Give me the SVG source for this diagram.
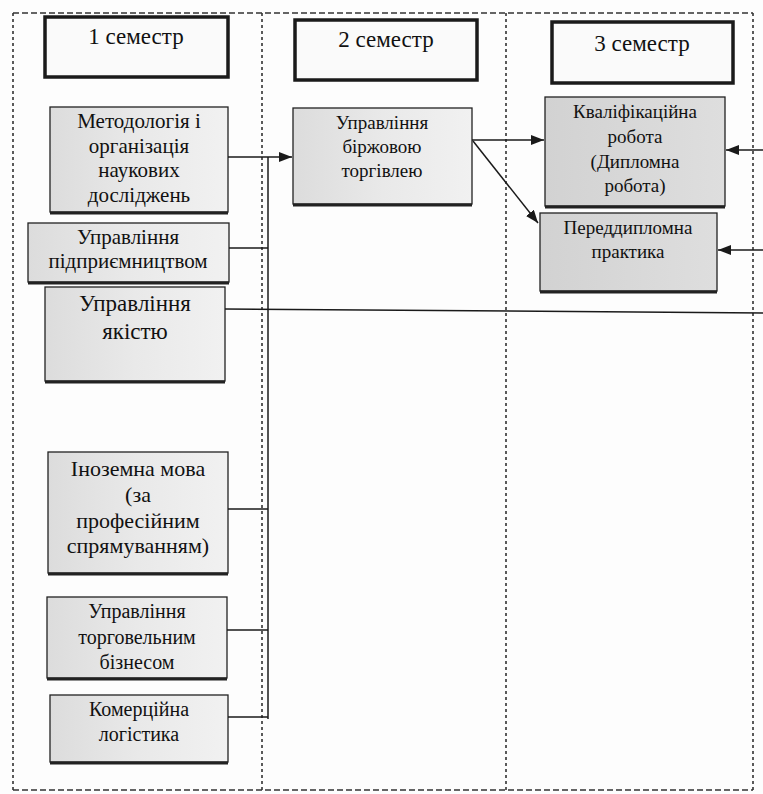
<svg xmlns="http://www.w3.org/2000/svg" width="763" height="794" viewBox="0 0 763 794">
<style>
.frameh{fill:none;stroke:#333;stroke-width:1.6;stroke-dasharray:6 3}
.framev{fill:none;stroke:#333;stroke-width:1.6;stroke-dasharray:3 3}
.hdr{fill:#fafafa;stroke:#1a1a1a;stroke-width:3.5}
.node{fill:url(#g);stroke:#222;stroke-width:1.3}
.node2{fill:url(#g2);stroke:#222;stroke-width:1.3}
.shadow{fill:none;stroke:#222;stroke-width:3}
text{font-family:'Liberation Serif','DejaVu Serif',serif;fill:#111;text-anchor:middle}
.c{fill:none;stroke:#1a1a1a;stroke-width:1.5}
</style>
<defs>
<linearGradient id="g" x1="0" y1="0" x2="1" y2="0">
<stop offset="0" stop-color="#dcdcdc"/>
<stop offset="0.5" stop-color="#e9e9e9"/>
<stop offset="1" stop-color="#f1f1f1"/>
</linearGradient>
<linearGradient id="g2" x1="0" y1="0" x2="1" y2="0">
<stop offset="0" stop-color="#d2d2d2"/>
<stop offset="1" stop-color="#dedede"/>
</linearGradient>
<marker id="ah" markerWidth="13" markerHeight="10" refX="13" refY="5" orient="auto" markerUnits="userSpaceOnUse">
<path d="M0,0 L13,5 L0,10 z" fill="#1a1a1a"/>
</marker>
</defs>
<rect width="763" height="794" fill="#fdfdfd"/>
<g id="frame">
<line class="frameh" x1="13" y1="13" x2="753" y2="13"/>
<line class="frameh" x1="13" y1="790" x2="753" y2="790"/>
<line class="framev" x1="13" y1="13" x2="13" y2="790"/>
<line class="framev" x1="262" y1="13" x2="262" y2="790"/>
<line class="framev" x1="506" y1="13" x2="506" y2="790"/>
<line class="framev" x1="753" y1="13" x2="753" y2="790"/>
</g>
<g id="h1"><rect class="hdr" x="45" y="17" width="183" height="60"/><text x="136" y="44" font-size="23">1 семестр</text></g>
<g id="h2"><rect class="hdr" x="295" y="20" width="182" height="60"/><text x="386" y="47" font-size="23">2 семестр</text></g>
<g id="h3"><rect class="hdr" x="552" y="22" width="181" height="61"/><text x="642" y="51" font-size="23">3 семестр</text></g>
<g id="n1"><rect class="node" x="50" y="107" width="178" height="105"/><line class="shadow" x1="50" y1="213" x2="228" y2="213"/>
<text font-size="21"><tspan x="139" y="128">Методологія і</tspan><tspan x="139" y="153">організація</tspan><tspan x="139" y="177">наукових</tspan><tspan x="139" y="202">досліджень</tspan></text></g>
<g id="n2"><rect class="node" x="28" y="223" width="201" height="59"/><line class="shadow" x1="28" y1="283" x2="229" y2="283"/>
<text font-size="21"><tspan x="128" y="244">Управління</tspan><tspan x="128" y="268">підприємництвом</tspan></text></g>
<g id="n3"><rect class="node" x="45" y="287" width="180" height="94"/><line class="shadow" x1="45" y1="382" x2="225" y2="382"/>
<text font-size="23"><tspan x="135" y="311">Управління</tspan><tspan x="135" y="339">якістю</tspan></text></g>
<g id="n4"><rect class="node" x="48" y="452" width="180" height="121"/><line class="shadow" x1="48" y1="574" x2="228" y2="574"/>
<text font-size="22"><tspan x="138" y="476">Іноземна мова</tspan><tspan x="138" y="502">(за</tspan><tspan x="138" y="528">професійним</tspan><tspan x="138" y="553">спрямуванням)</tspan></text></g>
<g id="n5"><rect class="node" x="47" y="597" width="180" height="81"/><line class="shadow" x1="47" y1="679" x2="227" y2="679"/>
<text font-size="20"><tspan x="137" y="618">Управління</tspan><tspan x="137" y="644">торговельним</tspan><tspan x="137" y="669">бізнесом</tspan></text></g>
<g id="n6"><rect class="node" x="50" y="695" width="178" height="67"/><line class="shadow" x1="50" y1="763" x2="228" y2="763"/>
<text font-size="20"><tspan x="139" y="716">Комерційна</tspan><tspan x="139" y="741">логістика</tspan></text></g>
<g id="n7"><rect class="node" x="293" y="108" width="179" height="96"/><line class="shadow" x1="293" y1="205" x2="472" y2="205"/>
<text font-size="19"><tspan x="382" y="129">Управління</tspan><tspan x="382" y="153">біржовою</tspan><tspan x="382" y="177">торгівлею</tspan></text></g>
<g id="n8"><rect class="node2" x="545" y="97" width="180" height="109"/><line class="shadow" x1="545" y1="207" x2="725" y2="207"/>
<text font-size="19"><tspan x="635" y="118">Кваліфікаційна</tspan><tspan x="635" y="143">робота</tspan><tspan x="635" y="168">(Дипломна</tspan><tspan x="635" y="192">робота)</tspan></text></g>
<g id="n9"><rect class="node2" x="540" y="213" width="177" height="78"/><line class="shadow" x1="540" y1="292" x2="717" y2="292"/>
<text font-size="19"><tspan x="628" y="234">Переддипломна</tspan><tspan x="628" y="258">практика</tspan></text></g>
<g id="connectors">
<path class="c" d="M228,157 H292" marker-end="url(#ah)"/>
<path class="c" d="M268,157 V719"/>
<path class="c" d="M229,248 H268"/>
<path class="c" d="M228,509 H268"/>
<path class="c" d="M227,630 H268"/>
<path class="c" d="M228,717 H268"/>
<path class="c" d="M225,309 L763,313"/>
<path class="c" d="M472,140 H544" marker-end="url(#ah)"/>
<path class="c" d="M473,141 L538,223" marker-end="url(#ah)"/>
<path class="c" d="M763,150 H726" marker-end="url(#ah)"/>
<path class="c" d="M763,250 H718" marker-end="url(#ah)"/>
</g>
</svg>
